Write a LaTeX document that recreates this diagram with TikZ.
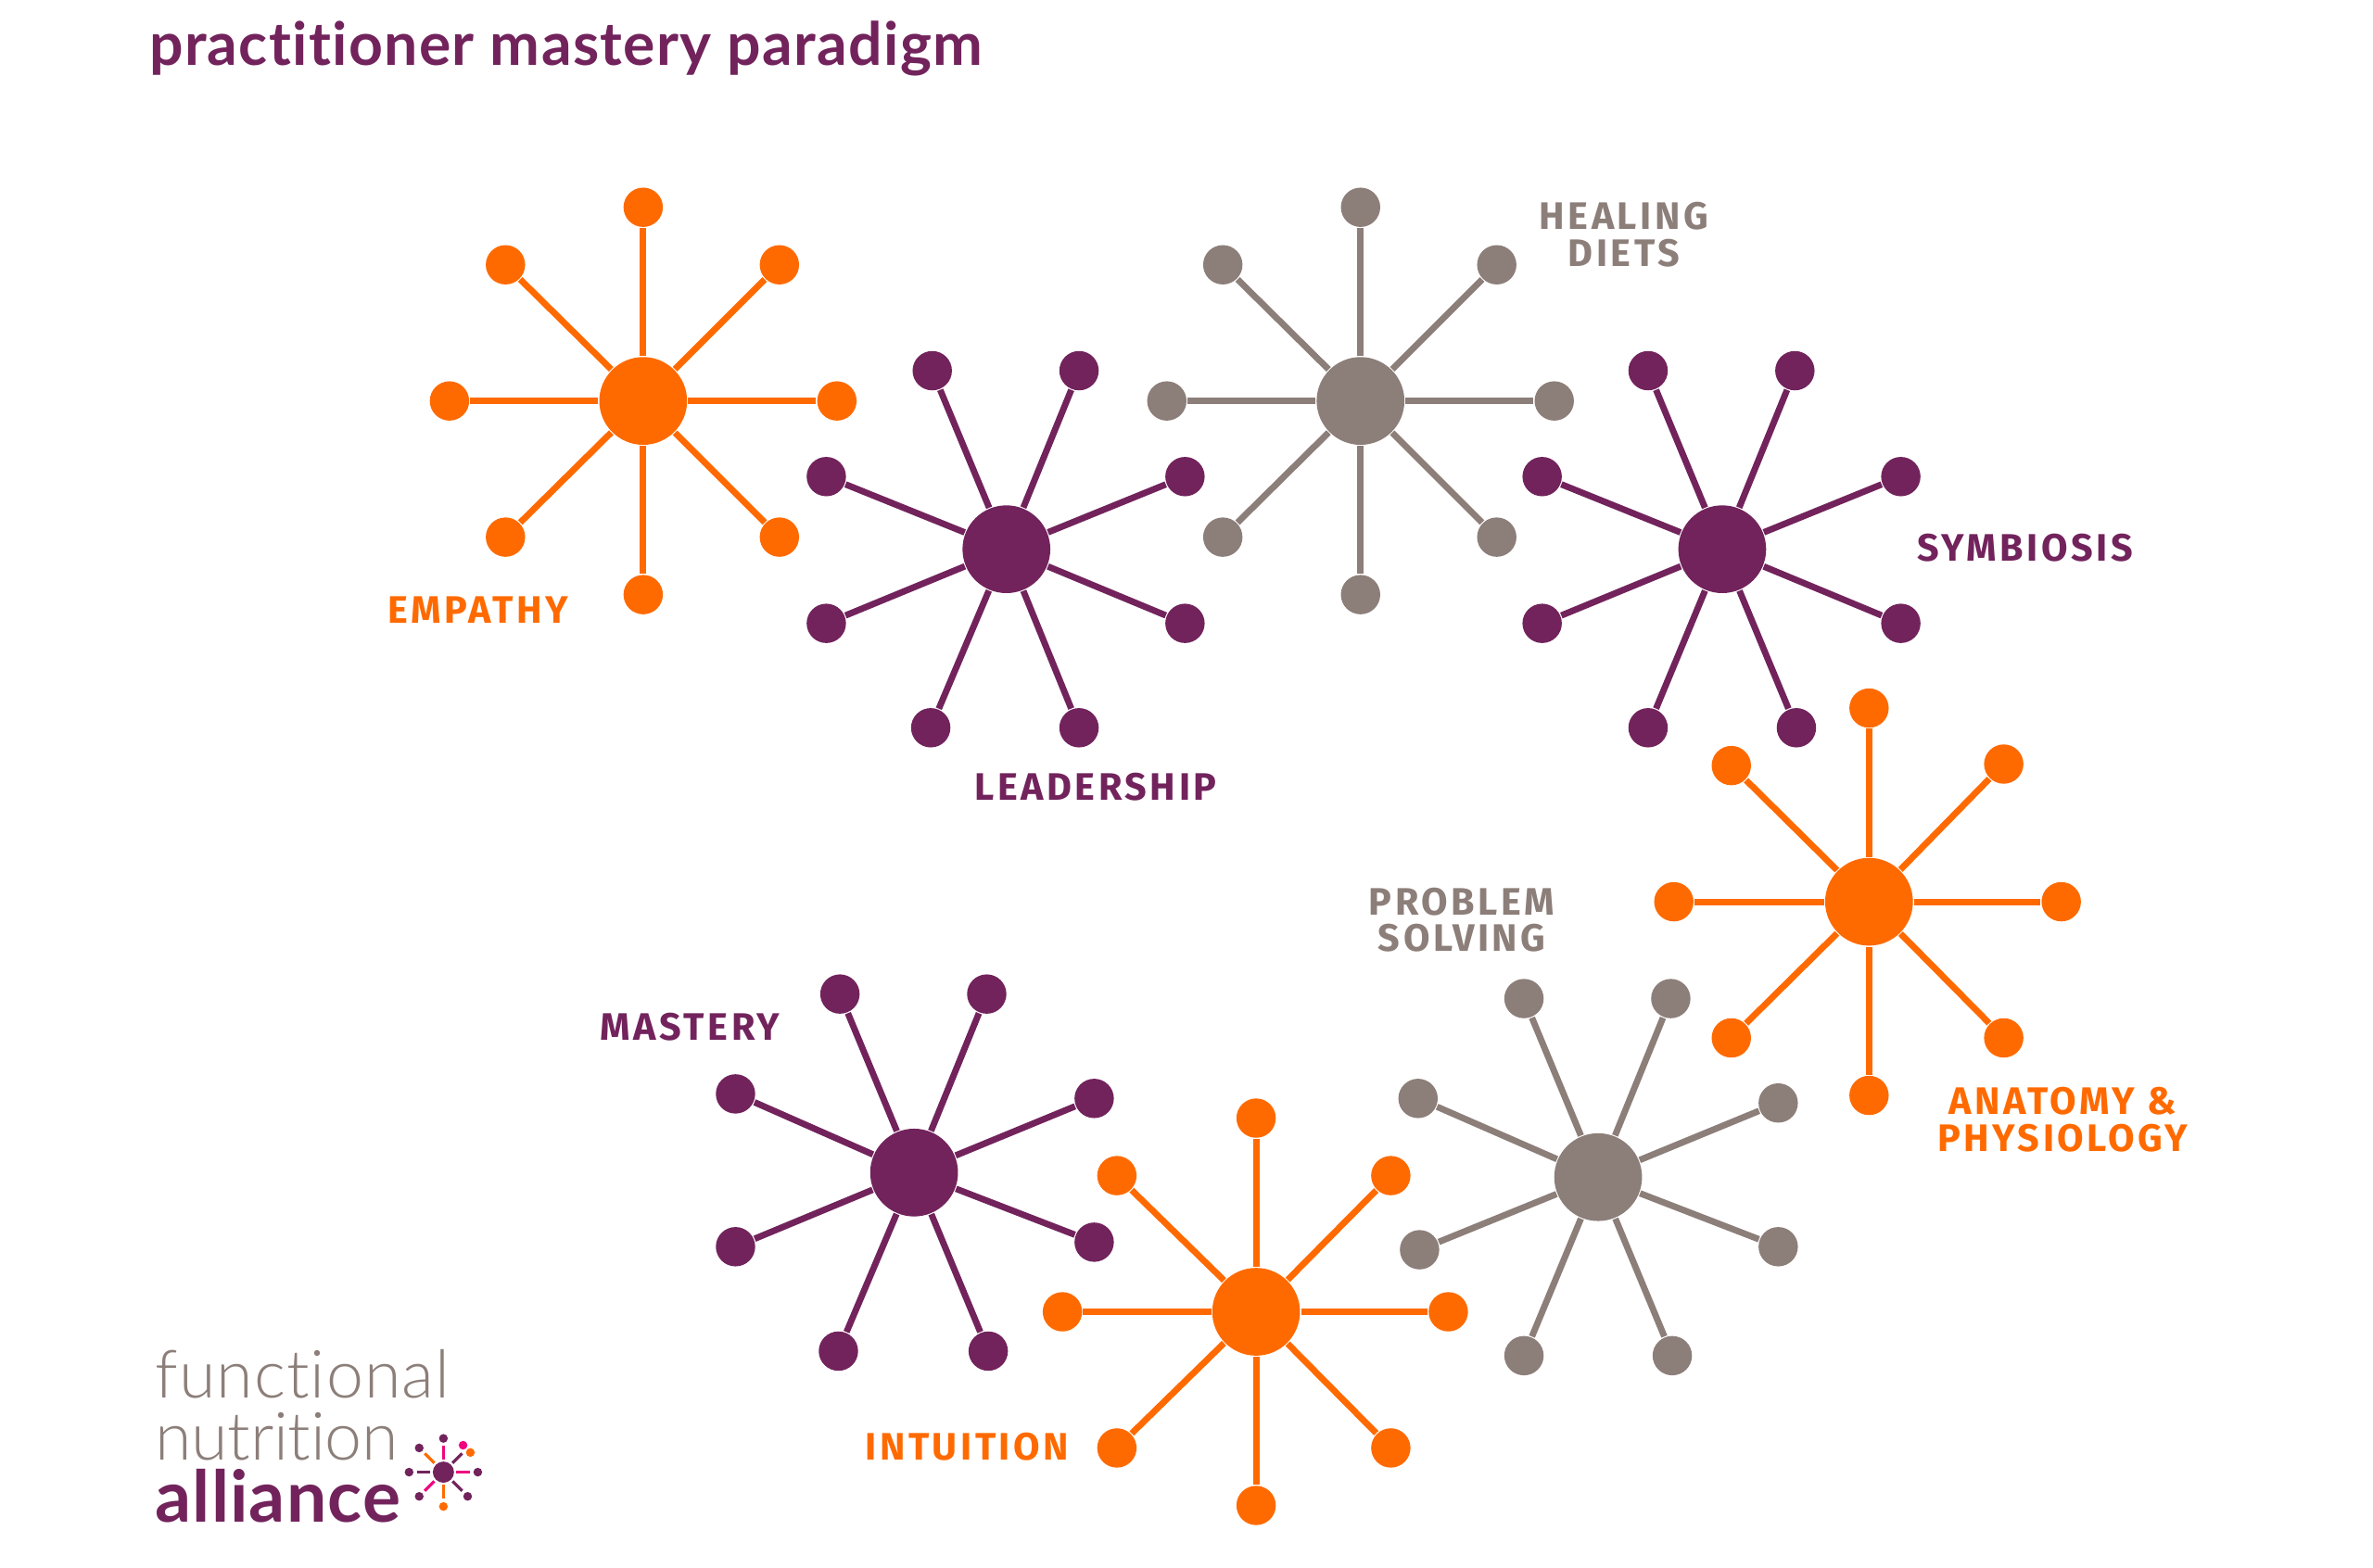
\documentclass[tikz,border=0pt]{standalone}
\usepackage{fontspec}
\usetikzlibrary{calc}
\setmainfont{Lato}
\newfontfamily\lblfont[LetterSpace=8.5,BoldFont={* Bold}]{Fira Sans}
\newfontfamily\titlefont[Ligatures=NoCommon,LetterSpace=2.1]{Lato Bold}
\newfontfamily\logoboldfont[Ligatures=NoCommon,LetterSpace=1.4]{Lato Bold}
\newfontfamily\lightfont[Ligatures=NoCommon,LetterSpace=1.5]{Lato Light}
\newfontfamily\lighttightfont[Ligatures=NoCommon,LetterSpace=-0.5]{Lato Light}
\definecolor{fnorange}{HTML}{FF6A00}
\definecolor{fnpurple}{HTML}{72235C}
\definecolor{fngray}{HTML}{8C7E79}
\definecolor{fnpink}{HTML}{F0047F}
\tikzset{
  hubdot/.style={circle,fill=#1,draw=none,minimum size=58*0.01cm,inner sep=0pt},
  satdot/.style={circle,fill=#1,draw=none,minimum size=26*0.01cm,inner sep=0pt},
  spoke/.style={draw=#1,line width=1.2pt},
  lbl/.style={text=#1,font=\lblfont\bfseries\fontsize{7.2}{6.9}\selectfont,align=center,inner sep=0pt},
  logodot/.style={circle,fill=#1,draw=none,minimum size=5.8*0.01cm,inner sep=0pt},
  logohub/.style={circle,fill=#1,draw=none,minimum size=14*0.01cm,inner sep=0pt},
  logotext/.style={text=#1,anchor=base west,inner sep=0pt},
}
\newcommand{\mkstar}[5]{% name, colour, cx, cy, list
  \node[hubdot=#2] (#1hub) at (#3,#4) {};
  \foreach \i/\px/\py in {#5} {
    \node[satdot=#2] (#1s\i) at (\px,\py) {};
    \draw[spoke=#2] (#1hub) -- (#1s\i);
  }
}
\begin{document}
\begin{tikzpicture}[x=0.01cm,y=-0.01cm]
\useasboundingbox (0,0) rectangle (1568,1036);
\mkstar{emp}{fnorange}{425}{265}{1/425/137,2/515/175,3/553/265,4/515/355,5/425/393,6/334/355,7/297/265,8/334/175}
\mkstar{lead}{fnpurple}{665}{363}{1/713/245,2/783/315,3/783/412,4/713/481,5/615/481,6/546/412,7/546/315,8/616/245}
\mkstar{heal}{fngray}{899}{265}{1/899/137,2/989/175,3/1027/265,4/989/355,5/899/393,6/808/355,7/771/265,8/808/175}
\mkstar{sym}{fnpurple}{1138}{363}{1/1186/245,2/1256/315,3/1256/412,4/1187/481,5/1089/481,6/1019/412,7/1019/315,8/1089/245}
\mkstar{ana}{fnorange}{1235}{596}{1/1235/468,2/1324/505,3/1362/596,4/1324/686,5/1235/724,6/1144/686,7/1106/596,8/1144/506}
\mkstar{prob}{fngray}{1056}{778}{1/1104/660,2/1175/729,3/1175/824,4/1105/896,5/1007/896,6/938/826,7/937/726,8/1007/660}
\mkstar{intu}{fnorange}{830}{867}{1/830/739,2/919/777,3/957/867,4/919/957,5/830/995,6/738/957,7/702/867,8/738/777}
\mkstar{mast}{fnpurple}{604}{775}{1/652/657,2/723/726,3/723/821,4/653/893,5/554/893,6/486/824,7/486/723,8/555/657}

\node[text=fnpurple,anchor=base west,inner sep=0pt,font=\titlefont\fontsize{11.2}{12}\selectfont] (title) at (98,43) {practitioner mastery paradigm};

\node[lbl=fnorange] (lemp) at (316,403) {EMPATHY};
\node[lbl=fnpurple] (llead) at (724,520) {LEADERSHIP};
\node[lbl=fngray] (lheal) at (1073,155) {HEALING\\DIETS};
\node[lbl=fnpurple] (lsym) at (1338,362) {SYMBIOSIS};
\node[lbl=fnorange] (lana) at (1363,740) {ANATOMY \&\\PHYSIOLOGY};
\node[lbl=fngray] (lprob) at (966,608) {PROBLEM\\SOLVING};
\node[lbl=fnpurple] (lmast) at (456,679) {MASTERY};
\node[lbl=fnorange] (lintu) at (639,956) {INTUITION};

\node[logotext=fngray,font=\lightfont\fontsize{12.5}{12}\selectfont] (lg1) at (102,924) {functional};
\node[logotext=fngray,font=\lighttightfont\fontsize{12.5}{12}\selectfont] (lg2) at (102,965) {nutrition};
\node[logotext=fnpurple,font=\logoboldfont\fontsize{13.4}{12}\selectfont] (lg3) at (102,1006) {alliance};

% logo mark
\node[logohub=fnpurple] (mk) at (293,973) {};
\foreach \n/\a/\c in {a/90/fnpink,b/45/fnpurple,c/0/fnpink,d/-45/fnpurple,e/-90/fnorange,f/-135/fnpink,g/180/fnpurple,h/135/fnorange}{
  \draw[draw=\c,line width=0.55pt] ($(mk)+(\a:8.5 and -8.5)$) -- ($(mk)+(\a:17.5 and -17.5)$);
}
\foreach \n/\dx/\dy/\c in {a/0/-22.3/fnpurple,b/-16/-16/fnpurple,c/-22.7/0/fnpurple,d/-16/16/fnpurple,e/0/22.7/fnorange,f/16/16/fnpurple,g/22.7/0/fnpurple,h/13/-17.8/fnpink,i/17.8/-13/fnorange}{
  \node[logodot=\c] (mk\n) at ($(mk)+(\dx,\dy)$) {};
}
\end{tikzpicture}
\end{document}
